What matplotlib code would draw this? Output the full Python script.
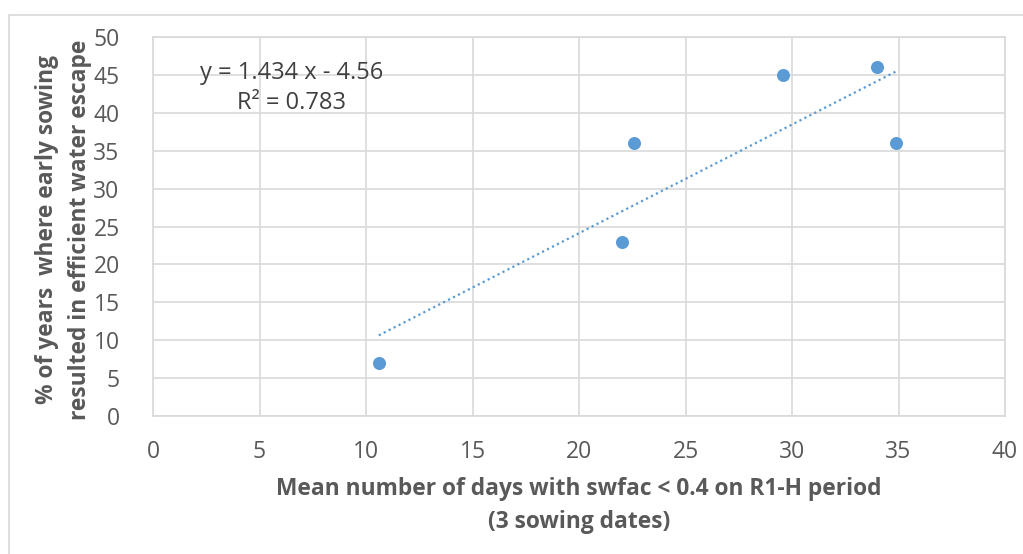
import numpy as np
import matplotlib.pyplot as plt
from matplotlib.patches import Rectangle

# data
dias_swfac = [10.6, 22.0, 22.6, 29.6, 34.0, 34.9]
pct_escape = [7, 23, 36, 45, 46, 36]

x_ticks = list(range(0, 45, 5))
y_ticks = list(range(0, 55, 5))

azul = '#5b9bd5'
cinza_txt = '#595959'
cinza_grade = '#d9d9d9'

plt.rcParams['font.family'] = ['Open Sans', 'DejaVu Sans']

fig = plt.figure(figsize=(10.23, 5.54), dpi=100)
fig.patches.append(Rectangle((9 / 1023, -0.1), 1.2, 1 - 15 / 554 + 0.1,
                             transform=fig.transFigure, fill=False,
                             edgecolor='#d9d9d9', linewidth=1.2))

ax = fig.add_axes([153 / 1023, 1 - 416 / 554, (1005 - 153) / 1023, (416 - 37) / 554])

ax.scatter(dias_swfac, pct_escape, s=88, color=azul, zorder=3, linewidths=0)

# linha de tendencia (regressao linear)
a, b = np.polyfit(dias_swfac, pct_escape, 1)
xs = np.array([min(dias_swfac), max(dias_swfac)])
ax.plot(xs, a * xs + b, linestyle=(0, (1, 1.5)), color=azul, linewidth=1.6, zorder=2)

ax.set_xlim(0, 40)
ax.set_ylim(0, 50)
ax.set_xticks(x_ticks)
ax.set_yticks(y_ticks)
ax.grid(True, color=cinza_grade, linewidth=1.2)
ax.set_axisbelow(True)
for lado in ['top', 'right', 'left', 'bottom']:
    ax.spines[lado].set_color(cinza_grade)
    ax.spines[lado].set_linewidth(1.2)
ax.tick_params(length=0, labelsize=16.5, colors=cinza_txt)
ax.tick_params(axis='y', pad=24)
ax.tick_params(axis='x', pad=17)

ax.text(0.163, 0.905, 'y = 1.434 x - 4.56', transform=ax.transAxes, ha='center',
        va='center', fontsize=17, color='#404040')
ax.text(0.163, 0.826, 'R² = 0.783', transform=ax.transAxes, ha='center',
        va='center', fontsize=17, color='#404040')

fig.text(579 / 1023, 1 - 489 / 554, 'Mean number of days with swfac < 0.4 on R1-H period',
         ha='center', va='center', fontsize=16.4, fontweight='bold', color=cinza_txt)
fig.text(579 / 1023, 1 - 522 / 554, '(3 sowing dates)',
         ha='center', va='center', fontsize=16.4, fontweight='bold', color=cinza_txt)
fig.text(47 / 1023, 1 - 230 / 554, '% of years  where early sowing',
         ha='center', va='center', rotation=90, fontsize=16.4, fontweight='bold', color=cinza_txt)
fig.text(80 / 1023, 1 - 230 / 554, 'resulted in efficient water escape',
         ha='center', va='center', rotation=90, fontsize=16.4, fontweight='bold', color=cinza_txt)

plt.savefig('out.png', dpi=100)
